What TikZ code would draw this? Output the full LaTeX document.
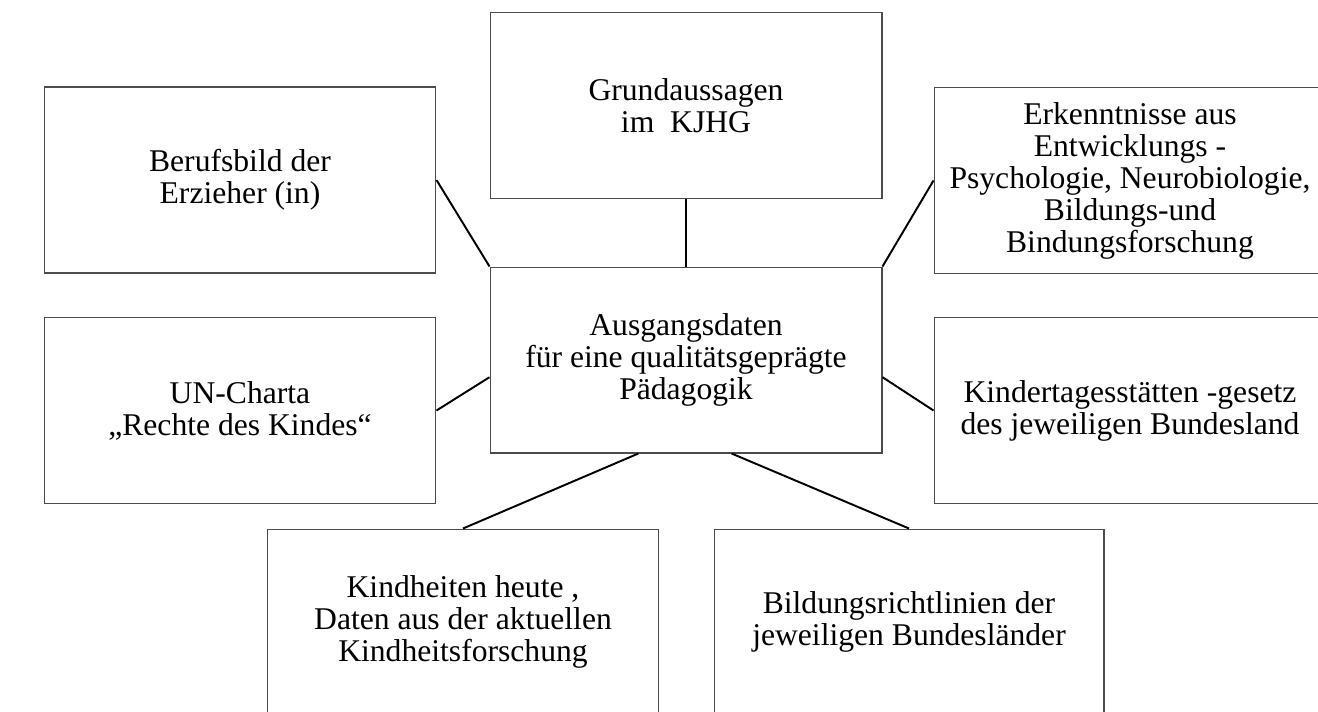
\documentclass[tikz,border=0pt]{standalone}
\usepackage{fontspec}
\setmainfont{Liberation Serif}
\usepackage{tikz}
\usetikzlibrary{calc}

\begin{document}
\begin{tikzpicture}[
    x=0.02cm, y=-0.02cm,
    font=\fontsize{18}{18.2}\selectfont,
    kasten/.style={draw=black!70, line width=0.6pt, align=center, inner sep=0pt,
                   minimum width=7.84cm, minimum height=3.72cm},
    linie/.style={black, line width=1.1pt}
  ]
    \clip (0,0) rectangle (1318,711);
    \fill[white] (0,0) rectangle (1318,711);
    \node[kasten] (grund)   at (686,105.5) {Grundaussagen\\im\ \ KJHG};
    \node[kasten] (beruf)   at (240,180)   {Berufsbild der\\Erzieher (in)};
    \node[kasten] (erkennt) at (1130,180.5) {Erkenntnisse aus\\Entwicklungs -\\Psychologie, Neurobiologie,\\Bildungs-und\\Bindungsforschung};
    \node[kasten] (zentrum) at (686,360)   {Ausgangsdaten\\für eine qualitätsgeprägte\\Pädagogik};
    \node[kasten] (uncharta) at (240,410.5) {UN-Charta\\„Rechte des Kindes“};
    \node[kasten] (kitagesetz) at (1130,410.5) {Kindertagesstätten -gesetz\\des jeweiligen Bundesland};
    \node[kasten] (kindheit) at (463,622)  {Kindheiten heute ,\\Daten aus der aktuellen\\Kindheitsforschung};
    \node[kasten, minimum width=7.8cm] (bildung) at (909,622) {Bildungsrichtlinien der\\jeweiligen Bundesländer};
    \draw[linie] (grund.south) -- (zentrum.north);
    \draw[linie] (beruf.east) -- (zentrum.north west);
    \draw[linie] (erkennt.west) -- (zentrum.north east);
    \draw[linie] (uncharta.east) -- (zentrum.185);
    \draw[linie] (kitagesetz.west) -- (zentrum.-5);
    \draw[linie] (zentrum.243) -- (kindheit.north);
    \draw[linie] (zentrum.-64) -- (bildung.north);
  \end{tikzpicture}
\end{document}
